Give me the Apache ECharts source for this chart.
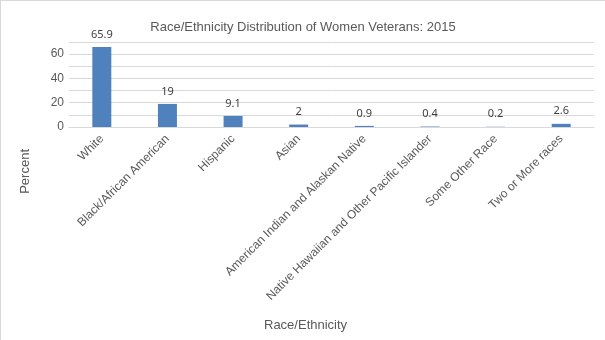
<!DOCTYPE html>
<html><head><meta charset="utf-8">
<script src="https://cdn.jsdelivr.net/npm/echarts@6/dist/echarts.min.js"></script>
<style>html,body{margin:0;padding:0;background:#fff}#c{box-sizing:border-box;width:605px;height:340px;border-left:1px solid #d9d9d9;border-top:1px solid #d9d9d9}</style>
</head><body><div id="c"></div>
<script>
const categories = ["White","Black/African American","Hispanic","Asian","American Indian and Alaskan Native","Native Hawaiian and Other Pacific Islander","Some Other Race","Two or More races"];
const values = [65.9, 19, 9.1, 2, 0.9, 0.4, 0.2, 2.6];
const yTicks = [0, 20, 40, 60];
const chart = echarts.init(document.getElementById('c'));
chart.setOption({
  animation: false,
  title: {text: 'Race/Ethnicity Distribution of Women Veterans: 2015', left: 'center', top: 15,
    textStyle: {fontFamily: 'Liberation Sans', fontSize: 13, fontWeight: 'normal', color: '#595959'}},
  grid: {left: 68, right: 11, top: 41, bottom: 213},
  xAxis: {type: 'category', data: categories,
    axisLine: {lineStyle: {color: '#d9d9d9'}}, axisTick: {show: false},
    axisLabel: {rotate: 45, interval: 0, fontFamily: 'Liberation Sans', fontSize: 12, color: '#595959', margin: 10}},
  yAxis: {type: 'value', min: 0, max: 70, interval: 10,
    axisLine: {show: false}, axisTick: {show: false},
    splitLine: {lineStyle: {color: '#d9d9d9'}},
    axisLabel: {fontFamily: 'Liberation Sans', fontSize: 12, color: '#595959', margin: 5,
      formatter: v => yTicks.includes(v) ? String(v) : ''}},
  graphic: [
    {type: 'text', left: 18, top: 148, rotation: Math.PI/2, style: {text: 'Percent', font: '13px "Liberation Sans"', fill: '#595959'}},
    {type: 'text', left: 263, top: 318, style: {text: 'Race/Ethnicity', font: '13px "Liberation Sans"', fill: '#595959'}}
  ],
  series: [{type: 'bar', data: values, barWidth: 19, itemStyle: {color: '#4f81bd'},
    label: {show: true, position: 'top', distance: 7, fontFamily: 'Noto Sans', fontSize: 11, color: '#404040'}}]
});
</script></body></html>
